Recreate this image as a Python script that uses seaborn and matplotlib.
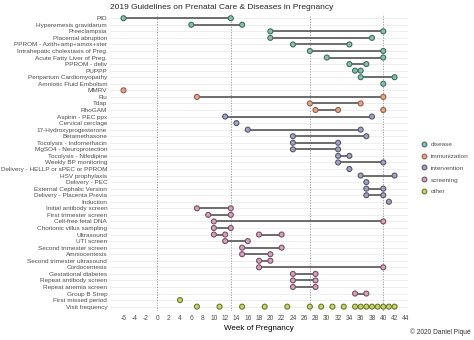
import matplotlib
matplotlib.use("Agg")
import matplotlib.pyplot as plt
from matplotlib.lines import Line2D
import numpy as np
import pandas as pd
import seaborn as sns

# ---------------- data ----------------
rows = [
    "PID", "Hyperemesis gravidarum", "Preeclampsia", "Placental abruption",
    "PPROM - Azith+amp+amox+ster", "Intrahepatic cholestasis of Preg.",
    "Acute Fatty Liver of Preg.", "PPROM - deliv", "PUPPP",
    "Peripartum Cardiomyopathy", "Amniotic Fluid Embolism",
    "MMRV", "Flu", "Tdap", "RhoGAM",
    "Aspirin - PEC ppx", "Cervical cerclage", "17-Hydroxyprogesterone",
    "Betamethasone", "Tocolysis - Indomethacin", "MgSO4 - Neuroprotection",
    "Tocolysis - Nifedipine", "Weekly BP monitoring",
    "Delivery - HELLP or sPEC or PPROM", "HSV prophylaxis", "Delivery - PEC",
    "External Cephalic Version", "Delivery - Placenta Previa", "Induction",
    "Initial antibody screen", "First trimester screen", "Cell-free fetal DNA",
    "Chorionic villus sampling", "Ultrasound", "UTI screen",
    "Second trimester screen", "Amniocentesis", "Second trimester ultrasound",
    "Cordocentesis", "Gestational diabetes", "Repeat antibody screen",
    "Repeat anemia screen", "Group B Strep",
    "First missed period", "Visit frequency",
]
row_category = (["disease"] * 11 + ["immunization"] * 4 + ["intervention"] * 14
                + ["screening"] * 14 + ["other"] * 2)

seg_task = [
    "PID", "Hyperemesis gravidarum", "Preeclampsia", "Placental abruption",
    "PPROM - Azith+amp+amox+ster", "Intrahepatic cholestasis of Preg.",
    "Acute Fatty Liver of Preg.", "PPROM - deliv", "PUPPP",
    "Peripartum Cardiomyopathy",
    "Flu", "Tdap", "RhoGAM",
    "Aspirin - PEC ppx", "17-Hydroxyprogesterone", "Betamethasone",
    "Tocolysis - Indomethacin", "MgSO4 - Neuroprotection",
    "Tocolysis - Nifedipine", "Weekly BP monitoring", "HSV prophylaxis",
    "External Cephalic Version", "Delivery - Placenta Previa",
    "Initial antibody screen", "First trimester screen", "Cell-free fetal DNA",
    "Chorionic villus sampling", "Ultrasound", "Ultrasound", "UTI screen",
    "Second trimester screen", "Amniocentesis", "Second trimester ultrasound",
    "Cordocentesis", "Gestational diabetes", "Repeat antibody screen",
    "Repeat anemia screen", "Group B Strep",
]
seg_start = [-6, 6, 20, 20, 24, 27, 30, 34, 35, 36,
             7, 27, 28,
             12, 16, 24, 24, 24, 32, 32, 36, 37, 37,
             7, 9, 10, 10, 10, 18, 12, 15, 15, 18, 18, 24, 24, 24, 35]
seg_end = [13, 15, 40, 38, 34, 40, 40, 37, 36, 42,
           40, 36, 32,
           38, 36, 37, 32, 32, 34, 40, 42, 40, 40,
           13, 13, 40, 13, 12, 22, 16, 22, 20, 20, 40, 28, 28, 28, 37]

single_task = ["Amniotic Fluid Embolism", "MMRV", "RhoGAM", "Cervical cerclage",
               "Delivery - HELLP or sPEC or PPROM", "Delivery - PEC", "Induction",
               "First missed period"]
single_week = [40, -6, 40, 14, 34, 37, 41, 4]

visit_weeks = [7, 11, 15, 19, 23, 27, 29, 31, 33, 35, 36, 37, 38, 39, 40, 41, 42]

trimester_lines = [0, 13, 27, 40]
x_ticks = list(range(-6, 45, 2))
x_tick_labels = [str(t) for t in x_ticks]

categories = ["disease", "immunization", "intervention", "screening", "other"]
face_pal = {"disease": "#8dbfb0", "immunization": "#dba892", "intervention": "#a3a3bd",
            "screening": "#cfa6ba", "other": "#c9d17c"}
edge_pal = {"disease": "#3f6e62", "immunization": "#9a5b48", "intervention": "#56566f",
            "screening": "#7b4e65", "other": "#6c7a24"}

# ---------------- frames ----------------
cat_of = dict(zip(rows, row_category))
pt_task = seg_task + seg_task + single_task + ["Visit frequency"] * len(visit_weeks)
pt_week = seg_start + seg_end + single_week + visit_weeks
pts = pd.DataFrame({"task": pt_task, "week": pt_week})
pts["category"] = pts["task"].map(cat_of)
pts["task"] = pd.Categorical(pts["task"], categories=rows)

# ---------------- style ----------------
sns.set_style("white")
plt.rcParams["font.family"] = ["Liberation Sans", "DejaVu Sans"]

fig = plt.figure(figsize=(4.74, 3.40), dpi=100)
ax = fig.add_axes([0.232, 0.0865, 0.629, 0.8715])

for x in trimester_lines:
    ax.axvline(x, color="#9a9a9a", lw=0.7, ls=(0, (1.2, 1.5)), zorder=1)

sns.scatterplot(data=pts, x="week", y="task", hue="category", palette=face_pal,
                hue_order=categories, s=13, linewidth=0.8, ax=ax, zorder=4,
                legend=False)
coll = ax.collections[-1]
coll.set_edgecolors([edge_pal[c] for c in pts["category"]])

ax.hlines(seg_task, seg_start, seg_end, color="#555555", lw=1.2, zorder=3)

ax.set_xlim(-8.4, 44.4)
ax.set_ylim(len(rows) - 0.4, -0.6)
ax.set_xticks(x_ticks)
ax.set_xticklabels(x_tick_labels)
ax.set_yticks(range(len(rows)))
ax.set_yticklabels(rows)
ax.tick_params(axis="both", length=0, labelcolor="#4d4d4d")
ax.tick_params(axis="y", pad=2, labelsize=4.6)
ax.tick_params(axis="x", pad=3, labelsize=4.8)
ax.grid(axis="y", color="#ebebeb", lw=0.6)
ax.grid(axis="x", visible=False)
ax.set_axisbelow(True)
for s in ax.spines.values():
    s.set_visible(False)

ax.set_ylabel("")
ax.set_xlabel("Week of Pregnancy", fontsize=5.8, color="black", labelpad=2)
ax.set_title("2019 Guidelines on Prenatal Care & Diseases in Pregnancy",
             loc="left", fontsize=6.0, pad=3.5)

handles = [Line2D([0], [0], marker="o", ls="", markersize=3.4,
                  markerfacecolor=face_pal[c], markeredgecolor=edge_pal[c],
                  markeredgewidth=0.8) for c in categories]
fig.legend(handles, categories, loc="center left", bbox_to_anchor=(0.882, 0.506),
           bbox_transform=fig.transFigure, frameon=False, fontsize=4.6,
           labelcolor="#4d4d4d", handlelength=1.0, handletextpad=0.6,
           labelspacing=1.0, borderaxespad=0)

fig.text(0.992, 0.012, "© 2020 Daniel Piqué", ha="right", va="bottom",
         fontsize=4.8, color="#333333")

fig.savefig("out.png", dpi=100)
